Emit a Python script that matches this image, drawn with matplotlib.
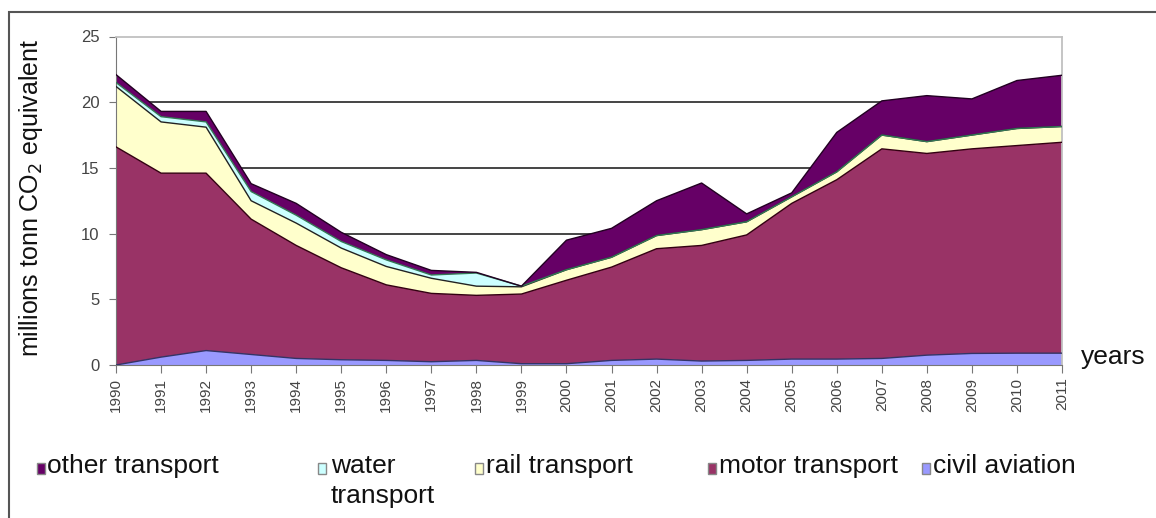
import matplotlib
matplotlib.use("Agg")
import matplotlib.pyplot as plt
from matplotlib.patches import Rectangle
import numpy as np

plt.rcParams['font.family'] = ['Liberation Sans', 'DejaVu Sans']

years = list(range(1990, 2012))
civil_aviation = [0.0, 0.6, 1.1, 0.8, 0.5, 0.4, 0.35, 0.25, 0.35, 0.1, 0.1, 0.35, 0.45, 0.3, 0.35, 0.45, 0.45, 0.5, 0.75, 0.88, 0.9, 0.9]
motor_transport = [16.6, 14.0, 13.5, 10.3, 8.6, 7.0, 5.75, 5.2, 4.95, 5.3, 6.35, 7.1, 8.4, 8.8, 9.55, 11.85, 13.65, 15.95, 15.35, 15.57, 15.8, 16.05]
rail_transport = [4.6, 3.9, 3.5, 1.4, 1.7, 1.5, 1.4, 1.15, 0.7, 0.55, 0.8, 0.75, 1.0, 1.2, 1.0, 0.5, 0.6, 1.05, 0.9, 1.05, 1.3, 1.2]
water_transport = [0.3, 0.4, 0.4, 0.7, 0.6, 0.5, 0.5, 0.25, 1.0, 0.05, 0, 0, 0, 0, 0, 0, 0, 0, 0, 0, 0, 0]
other_transport = [0.6, 0.4, 0.8, 0.6, 0.9, 0.7, 0.4, 0.35, 0.05, 0.0, 2.25, 2.2, 2.65, 3.55, 0.6, 0.3, 3.0, 2.6, 3.5, 2.75, 3.65, 3.9]

series = [civil_aviation, motor_transport, rail_transport, water_transport, other_transport]
colors = ["#9999FF", "#993366", "#FFFFCC", "#CCFFFF", "#660066"]
edges = ["#333366", "#330011", "#222222", "#337755", "#220022"]

fig = plt.figure(figsize=(11.56, 5.18), dpi=100)
W, H = 1156, 518
ax = fig.add_axes([116 / W, 1 - 365 / H, (1062 - 116) / W, (365 - 36.5) / H])

x = np.array(years)
base = np.zeros(len(years))
for vals, c, e in zip(series, colors, edges):
    top = base + np.array(vals)
    ax.fill_between(x, base, top, facecolor=c, edgecolor="none", zorder=2)
    ax.plot(x, top, color=e, lw=1.0, zorder=3)
    base = top

ax.set_xlim(1990, 2011)
ax.set_ylim(0, 25)
ax.set_yticks([0, 5, 10, 15, 20, 25])
ax.set_xticks(years)
ax.set_xticklabels([str(y) for y in years], rotation=90, fontsize=11, color="#444444")
ax.tick_params(axis="y", labelsize=12, labelcolor="#444444", color="#777777",
               length=5, direction="out", pad=7)
ax.tick_params(axis="x", length=6, direction="out", color="#777777", pad=3)
for yv in [5, 10, 15, 20]:
    ax.axhline(yv, color="#444444", lw=1.4, zorder=1)
for s in ["top", "right"]:
    ax.spines[s].set_color("#c0c0c0")
    ax.spines[s].set_linewidth(1.3)
for s in ["left", "bottom"]:
    ax.spines[s].set_color("#777777")

fig.text(31 / W, 1 - 198 / H, "millions tonn CO$_2$ equivalent", rotation=90,
         ha="center", va="center", fontsize=18, color="#111111")
fig.text(1081 / W, 1 - 364 / H, "years", ha="left", va="baseline", fontsize=19, color="#111111")

# figure border
fig.patches.append(Rectangle((9 / W, -0.1), 1.2, 1 - 12 / H + 0.1, transform=fig.transFigure,
                             fill=False, edgecolor="#555555", lw=1.5))

legend_pos = [37, 318, 475, 708, 922]
legend_text_x = [47, 331, 486, 719, 933]
legend_labels = ["other transport", "water\ntransport", "rail transport", "motor transport", "civil aviation"]
legend_colors = ["#660066", "#CCFFFF", "#FFFFCC", "#993366", "#9999FF"]
for px, tx, label, c in zip(legend_pos, legend_text_x, legend_labels, legend_colors):
    fig.patches.append(Rectangle((px / W, 1 - 474 / H), 8 / W, 11 / H, transform=fig.transFigure,
                                 facecolor=c, edgecolor="#888888", lw=1.0))
    fig.text(tx / W, 1 - 473 / H, label.split("\n")[0], ha="left", va="baseline", fontsize=19,
             color="#111111")
    if "\n" in label:
        fig.text(tx / W, 1 - 503 / H, label.split("\n")[1], ha="left", va="baseline", fontsize=19,
                 color="#111111")

fig.savefig("out.png", dpi=100)
